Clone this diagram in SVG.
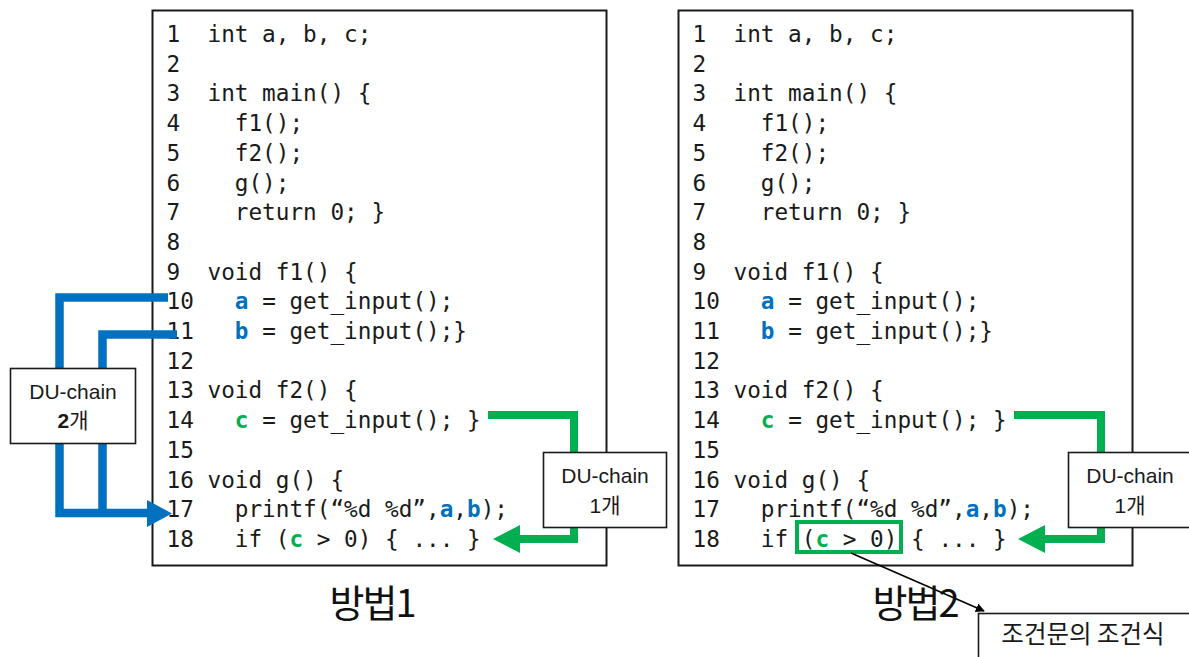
<svg xmlns="http://www.w3.org/2000/svg" width="1189" height="657" viewBox="0 0 1189 657">
  <style>
    .frame { fill: #ffffff; stroke: #1a1a1a; stroke-width: 2; }
    .note { fill: #ffffff; stroke: #1a1a1a; stroke-width: 1.6; }
    .code text { font-family: "DejaVu Sans Mono", "Liberation Mono", monospace; font-size: 22.7px; fill: #1a1a1a; white-space: pre; }
    .vb { fill: #0070C0; font-weight: bold; }
    .vg { fill: #00B050; font-weight: bold; }
    .lbl { font-family: "Liberation Sans", "Noto Sans CJK KR", sans-serif; font-size: 21px; fill: #1a1a1a; text-anchor: middle; }
    .title { font-family: "Noto Sans CJK KR", "Liberation Sans", sans-serif; font-size: 38px; letter-spacing: -2px; fill: #111111; text-anchor: middle; }
    .kr { font-family: "Noto Sans CJK KR", sans-serif; font-size: 24.5px; fill: #1a1a1a; text-anchor: middle; }
    .blue { fill: none; stroke: #0070C0; stroke-width: 8.5; stroke-linejoin: miter; stroke-linecap: butt; }
    .green { fill: none; stroke: #00B050; stroke-width: 8; stroke-linejoin: miter; stroke-linecap: butt; }
    .bluehead { fill: #0070C0; }
    .greenhead { fill: #00B050; }
  </style>
  <defs>
    <marker id="tri" viewBox="0 0 10 10" refX="9" refY="5" markerWidth="9" markerHeight="9" markerUnits="userSpaceOnUse" orient="auto">
      <path d="M0,0 L10,5 L0,10 Z" fill="#000000"/>
    </marker>
  </defs>

  <!-- method 1: code listing -->
  <g id="code-method1">
    <rect class="frame" x="152.5" y="10.5" width="454" height="555"/>
    <g class="code">
      <text xml:space="preserve" x="166.5" y="42">1  int a, b, c;</text>
      <text xml:space="preserve" x="166.5" y="71.7">2</text>
      <text xml:space="preserve" x="166.5" y="101.4">3  int main() {</text>
      <text xml:space="preserve" x="166.5" y="131.1">4    f1();</text>
      <text xml:space="preserve" x="166.5" y="160.8">5    f2();</text>
      <text xml:space="preserve" x="166.5" y="190.5">6    g();</text>
      <text xml:space="preserve" x="166.5" y="220.2">7    return 0; }</text>
      <text xml:space="preserve" x="166.5" y="249.9">8</text>
      <text xml:space="preserve" x="166.5" y="279.6">9  void f1() {</text>
      <text xml:space="preserve" x="166.5" y="309.3">10   <tspan class="vb">a</tspan> = get_input();</text>
      <text xml:space="preserve" x="166.5" y="339">11   <tspan class="vb">b</tspan> = get_input();}</text>
      <text xml:space="preserve" x="166.5" y="368.7">12</text>
      <text xml:space="preserve" x="166.5" y="398.4">13 void f2() {</text>
      <text xml:space="preserve" x="166.5" y="428.1">14   <tspan class="vg">c</tspan> = get_input(); }</text>
      <text xml:space="preserve" x="166.5" y="457.8">15</text>
      <text xml:space="preserve" x="166.5" y="487.5">16 void g() {</text>
      <text xml:space="preserve" x="166.5" y="517.2">17   printf(“%d %d”,<tspan class="vb">a</tspan>,<tspan class="vb">b</tspan>);</text>
      <text xml:space="preserve" x="166.5" y="546.9">18   if (<tspan class="vg">c</tspan> &gt; 0) { ... }</text>
    </g>
  </g>

  <!-- method 2: code listing -->
  <g id="code-method2">
    <rect class="frame" x="678.5" y="10.5" width="454" height="555"/>
    <g class="code">
      <text xml:space="preserve" x="692.5" y="42">1  int a, b, c;</text>
      <text xml:space="preserve" x="692.5" y="71.7">2</text>
      <text xml:space="preserve" x="692.5" y="101.4">3  int main() {</text>
      <text xml:space="preserve" x="692.5" y="131.1">4    f1();</text>
      <text xml:space="preserve" x="692.5" y="160.8">5    f2();</text>
      <text xml:space="preserve" x="692.5" y="190.5">6    g();</text>
      <text xml:space="preserve" x="692.5" y="220.2">7    return 0; }</text>
      <text xml:space="preserve" x="692.5" y="249.9">8</text>
      <text xml:space="preserve" x="692.5" y="279.6">9  void f1() {</text>
      <text xml:space="preserve" x="692.5" y="309.3">10   <tspan class="vb">a</tspan> = get_input();</text>
      <text xml:space="preserve" x="692.5" y="339">11   <tspan class="vb">b</tspan> = get_input();}</text>
      <text xml:space="preserve" x="692.5" y="368.7">12</text>
      <text xml:space="preserve" x="692.5" y="398.4">13 void f2() {</text>
      <text xml:space="preserve" x="692.5" y="428.1">14   <tspan class="vg">c</tspan> = get_input(); }</text>
      <text xml:space="preserve" x="692.5" y="457.8">15</text>
      <text xml:space="preserve" x="692.5" y="487.5">16 void g() {</text>
      <text xml:space="preserve" x="692.5" y="517.2">17   printf(“%d %d”,<tspan class="vb">a</tspan>,<tspan class="vb">b</tspan>);</text>
      <text xml:space="preserve" x="692.5" y="546.9">18   if (<tspan class="vg">c</tspan> &gt; 0) { ... }</text>
    </g>
    <!-- highlight of the condition expression -->
    <rect x="797" y="522" width="104" height="30" fill="none" stroke="#00B050" stroke-width="4"/>
  </g>

  <!-- connectors -->
  <g id="connectors">
    <path class="blue" d="M168,297.5 H59.5 V513 H148"/>
    <path class="blue" d="M177,334.5 H102.5 V513"/>
    <polygon class="bluehead" points="147,500 172,513.5 147,527"/>

    <path class="green" d="M488,415 H574 V539 H519"/>
    <polygon class="greenhead" points="520,525 493,539 520,553"/>

    <path class="green" d="M1014,415 H1101 V539 H1044"/>
    <polygon class="greenhead" points="1045,525 1018,539 1045,553"/>

    <line x1="851" y1="553" x2="984" y2="611" stroke="#000000" stroke-width="1.6" marker-end="url(#tri)"/>
  </g>

  <!-- chain count labels -->
  <g id="label-chain2">
    <rect class="note" x="10.5" y="368.5" width="125" height="75"/>
    <text class="lbl" x="73" y="399">DU-chain</text>
    <text class="lbl" x="73" y="428"><tspan font-weight="bold">2</tspan>개</text>
  </g>
  <g id="label-chain1-left">
    <rect class="note" x="543.5" y="452.5" width="123" height="75"/>
    <text class="lbl" x="605" y="483">DU-chain</text>
    <text class="lbl" x="605" y="513">1개</text>
  </g>
  <g id="label-chain1-right">
    <rect class="note" x="1068.5" y="452.5" width="124" height="75"/>
    <text class="lbl" x="1130" y="483">DU-chain</text>
    <text class="lbl" x="1130" y="513">1개</text>
  </g>
  <g id="label-condition">
    <rect class="note" x="978.5" y="613.5" width="220" height="60"/>
    <text class="kr" x="1083" y="643">조건문의 조건식</text>
  </g>

  <!-- captions -->
  <g id="caption-method1">
    <text class="title" x="372" y="617">방법1</text>
  </g>
  <g id="caption-method2">
    <text class="title" x="915" y="617">방법2</text>
  </g>
</svg>
